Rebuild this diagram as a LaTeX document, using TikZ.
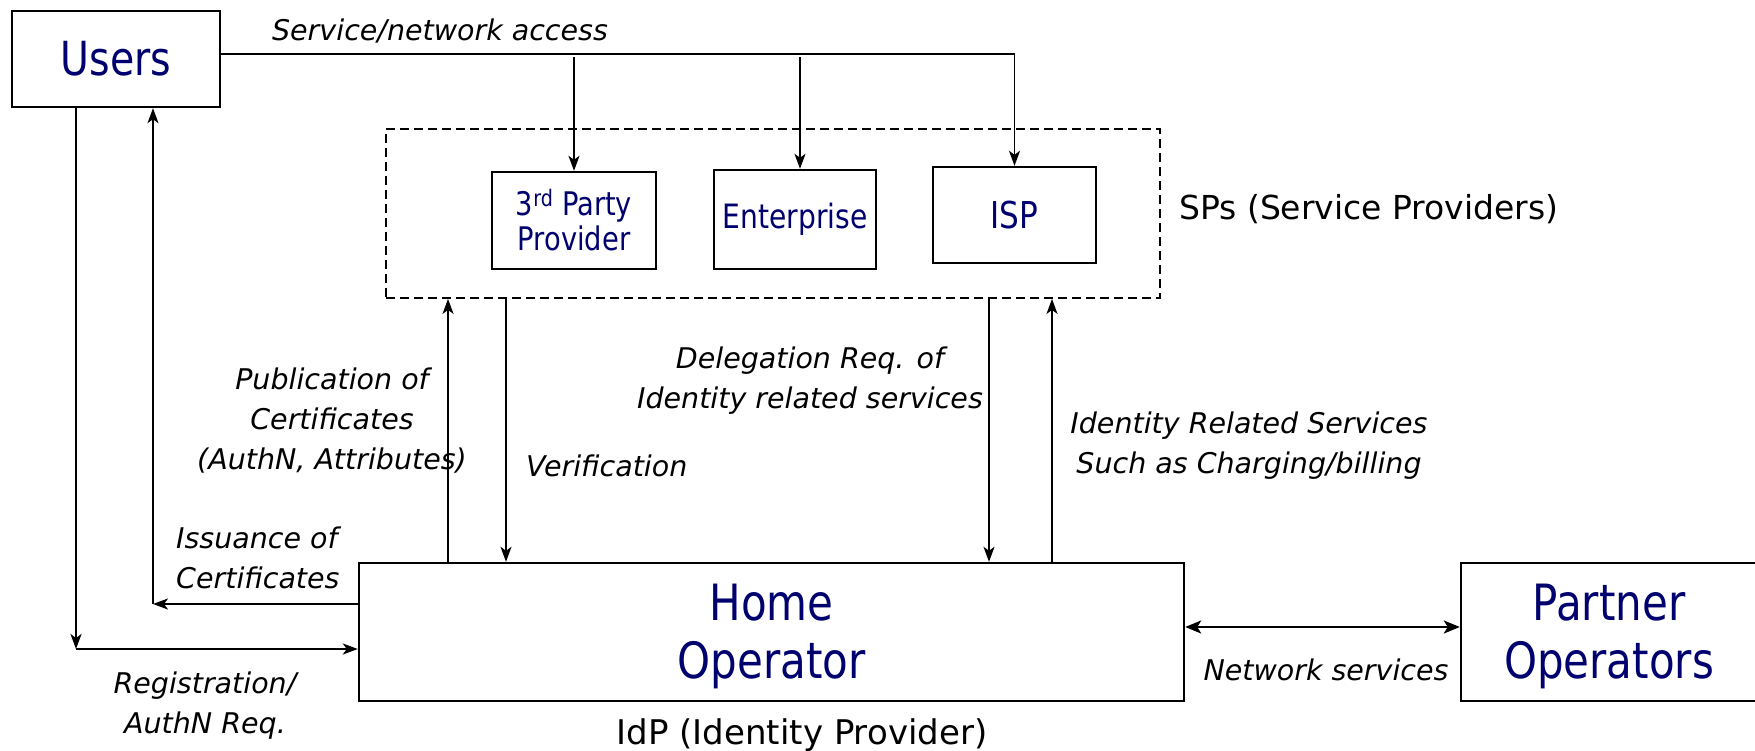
\documentclass[tikz,border=0pt]{standalone}
\usepackage{fontspec}
\setmainfont{DejaVu Sans}
\newfontfamily\bluefont{DejaVu Sans}[FakeStretch=0.84]
\usetikzlibrary{arrows.meta}
\definecolor{navy}{RGB}{0,0,110}
\begin{document}
\begin{tikzpicture}[x=1pt,y=-1pt,
  box/.style={draw, line width=2.4pt, inner sep=0pt, align=center, text=navy},
  boxtext/.style={inner sep=0pt, align=center, text=navy, font=\bluefont\fontsize{50}{58}\selectfont},
  midtext/.style={font=\bluefont\fontsize{32.5}{35}\selectfont},
  spbox/.style={draw, line width=1.8pt, dash pattern=on 9pt off 5pt, inner sep=0pt},
  lbl/.style={inner sep=0pt, align=center, font=\itshape\fontsize{28.5}{40}\selectfont},
  plain/.style={inner sep=0pt, font=\fontsize{33}{40}\selectfont},
  conn/.style={line width=2pt},
  arr/.style={line width=1.8pt, -{Stealth[length=15pt,width=11pt,inset=4pt]}},
  dbl/.style={line width=2.4pt, {Stealth[length=16pt,width=13pt,inset=4pt]}-{Stealth[length=16pt,width=13pt,inset=4pt]}}
]
\useasboundingbox (0,0) rectangle (1755,750);
\fill[white] (0,0) rectangle (1755,750);
\clip (0,0) rectangle (1755,750);

% boxes
\node[box, font=\bluefont\fontsize{47}{54}\selectfont, minimum width=208pt, minimum height=96pt] (Users) at (116,59) {Users};
\node[spbox, minimum width=774pt, minimum height=169pt] (SP) at (773,213.5) {};
\node[box, midtext, minimum width=164pt, minimum height=97pt] (P3) at (574,220.5) {3\textsuperscript{rd} Party\\Provider};
\node[box, font=\bluefont\fontsize{33.5}{40}\selectfont, minimum width=162pt, minimum height=99pt] (Ent) at (795,219.5) {Enterprise};
\node[box, font=\bluefont\fontsize{37}{40}\selectfont, minimum width=163pt, minimum height=96pt] (ISP) at (1014.5,215) {ISP};
\node[box, minimum width=825pt, minimum height=138pt] (Home) at (771.5,632) {};
\node[box, minimum width=296pt, minimum height=138pt] (Partner) at (1609,632) {};
\node[boxtext] (HomeT) at ([yshift=-4pt]Home.center) {Home\\Operator};
\node[boxtext] (PartnerT) at ([yshift=-4pt]Partner.center) {Partner\\Operators};

% plain texts
\node[plain, anchor=west] (tsps) at (1179,209) {SPs (Service Providers)};
\node[plain, font=\fontsize{34}{40}\selectfont] (tidp) at (802,735) {IdP (Identity Provider)};

% labels
\node[lbl] (tsna) at (440,31) {Service/network access};
\node[lbl] (tpub) at (332,421) {Publication of\\Certificates\\(AuthN, Attributes)};
\node[lbl] (tdel) at (810,381) {Delegation Req. of\\Identity related services};
\node[lbl, anchor=west] (tver) at (526,466) {Verification};
\node[lbl] (tirs) at (1249,446) {Identity Related Services\\Such as Charging/billing};
\node[lbl, anchor=west, align=left] (tiss) at (176,558) {Issuance of\\Certificates};
\node[lbl] (treg) at (205,706) {Registration/\\AuthN Req.};
\node[lbl] (tnet) at (1326,670) {Network services};

% helper coordinates
\coordinate (topline) at (0,54);
\coordinate (topline2) at (0,57);
\coordinate (xpub) at (448,0);
\coordinate (xver) at (506,0);
\coordinate (xdel) at (989,0);
\coordinate (xirs) at (1052,0);
\coordinate (creg) at (76,649);
\coordinate (ciss) at (153,604);
\coordinate (cnet) at (0,627);

% service access
\draw[conn] (Users.east |- topline) -- (ISP.north |- topline);
\draw[arr] (ISP.north |- topline) -- (ISP.north);
\draw[arr] (P3.north |- topline2) -- (P3.north);
\draw[arr] ([xshift=5pt]Ent.north |- topline2) -- ([xshift=5pt]Ent.north);

% SP <-> Home
\draw[arr] (Home.north -| xpub) -- (SP.south -| xpub);
\draw[arr] (SP.south -| xver) -- (Home.north -| xver);
\draw[arr] (SP.south -| xdel) -- (Home.north -| xdel);
\draw[arr] (Home.north -| xirs) -- (SP.south -| xirs);

% Users <-> Home
\draw[arr] (Users.south -| creg) -- (creg);
\draw[arr] (creg) -- (Home.west |- creg);
\draw[arr] (Home.west |- ciss) -- (ciss);
\draw[arr] (ciss) -- (Users.south -| ciss);

% Home <-> Partner
\draw[dbl] (Home.east |- cnet) -- (Partner.west |- cnet);
\end{tikzpicture}
\end{document}
